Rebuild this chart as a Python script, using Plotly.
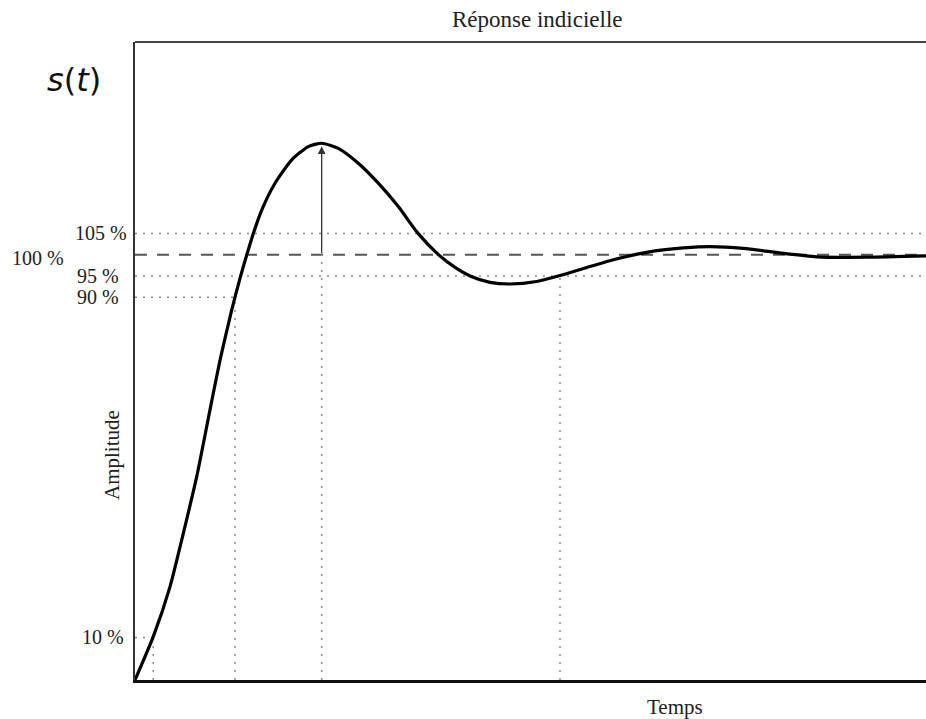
import plotly.graph_objects as go

# ---- data ----
temps = [0.0, 0.231, 0.442, 0.611, 0.780, 0.948, 1.075, 1.223, 1.328, 1.412, 1.496, 1.602,
         1.770, 1.981, 2.191, 2.360, 2.570, 2.823, 3.076, 3.329, 3.578, 3.843, 4.046, 4.235,
         4.488, 4.741, 5.078, 5.373, 5.752, 6.047, 6.321, 6.574, 6.932, 7.269, 7.690, 8.196,
         8.618, 9.250, 10.0]
amplitude = [0.0, 0.102, 0.219, 0.345, 0.478, 0.635, 0.752, 0.870, 0.945, 0.999, 1.050, 1.105,
             1.168, 1.223, 1.254, 1.262, 1.250, 1.215, 1.168, 1.113, 1.050, 0.999, 0.970, 0.950,
             0.935, 0.931, 0.937, 0.951, 0.972, 0.988, 1.000, 1.009, 1.016, 1.019, 1.015, 1.003,
             0.995, 0.994, 0.997]

niveau_final = 1.0
niveaux_pleins = [1.05, 0.95]          # 105 %, 95 % (full-width dotted)
niveau_90 = 0.90
niveau_10 = 0.10
t_10 = 0.231      # time curve reaches 10 %
t_90 = 1.264      # time curve reaches 90 %
t_pic = 2.36      # peak time
val_pic = 1.255   # arrow tip
t_5 = 5.373       # settling (95 %)

labels_y = ["105 %", "100 %", "95 %", "90 %", "10 %"]
labels_val = [1.05, 1.0, 0.95, 0.90, 0.10]
labels_right_px = [129, 66, 121, 121, 126]

W, H = 926, 719
L, T, B, R = 135, 42, 680, 926
XMAX, YMAX = 10.0, 1.5

DOT = "2px,6px"
GREY = "#8a8a8a"

fig = go.Figure()

def seg(x0, x1, y0, y1, color, dash, width):
    fig.add_trace(go.Scatter(x=[x0, x1], y=[y0, y1], mode="lines",
                             line=dict(color=color, dash=dash, width=width),
                             hoverinfo="skip", showlegend=False))

# horizontal reference lines
for lv in niveaux_pleins:
    seg(0, XMAX, lv, lv, GREY, DOT, 1.5)
seg(0, t_90, niveau_90, niveau_90, GREY, DOT, 1.5)
seg(0, t_10, niveau_10, niveau_10, GREY, DOT, 1.5)
seg(0, XMAX, niveau_final, niveau_final, "#555555", "12px,10px", 2)

# vertical reference lines
seg(t_10, t_10, 0, niveau_10, GREY, DOT, 1.5)
seg(t_90, t_90, 0, niveau_90, GREY, DOT, 1.5)
seg(t_pic, t_pic, 0, niveau_final, GREY, DOT, 1.5)
seg(t_5, t_5, 0, 0.95, GREY, DOT, 1.5)

# response curve
fig.add_trace(go.Scatter(x=temps, y=amplitude, mode="lines",
                         line=dict(color="black", width=3.2, shape="spline", smoothing=0.6),
                         hoverinfo="skip", showlegend=False))

# overshoot arrow
fig.add_annotation(x=t_pic, y=val_pic, ax=t_pic, ay=niveau_final, xref="x", yref="y",
                   axref="x", ayref="y", showarrow=True, arrowhead=2, arrowsize=1.2,
                   arrowwidth=1.3, arrowcolor="#333333", text="")

def px_x(px):
    return (px - L) / (R - L)

def px_y(py):
    return (B - py) / (B - T)

FONT = "Liberation Serif, Times New Roman, serif"

for lab, v, rp in zip(labels_y, labels_val, labels_right_px):
    fig.add_annotation(x=px_x(rp), y=v, xref="paper", yref="y", text=lab, showarrow=False,
                       xanchor="right", yanchor="middle", yshift=-3 if lab == "100 %" else 0,
                       font=dict(family=FONT, size=20, color="#222222"))

fig.add_annotation(x=px_x(537), y=px_y(20), xref="paper", yref="paper", text="Réponse indicielle",
                   showarrow=False, xanchor="center", yanchor="middle",
                   font=dict(family=FONT, size=23, color="#222222"))
fig.add_annotation(x=px_x(675), y=px_y(707), xref="paper", yref="paper", text="Temps",
                   showarrow=False, xanchor="center", yanchor="middle",
                   font=dict(family=FONT, size=21, color="#222222"))
fig.add_annotation(x=px_x(112), y=px_y(455), xref="paper", yref="paper", text="Amplitude",
                   showarrow=False, xanchor="center", yanchor="middle", textangle=-90,
                   font=dict(family=FONT, size=21, color="#222222"))
fig.add_annotation(x=px_x(74), y=px_y(80), xref="paper", yref="paper",
                   text="<i>s</i>(<i>t</i>)", showarrow=False, xanchor="center", yanchor="middle",
                   font=dict(family="DejaVu Sans", size=32, color="#111111"))

# frame: top line
fig.add_shape(type="line", xref="paper", yref="paper", x0=0, x1=1, y0=1, y1=1,
              line=dict(color="#444444", width=2))

fig.update_xaxes(range=[0, XMAX], showgrid=False, zeroline=False, showticklabels=False,
                 ticks="", showline=True, linecolor="#111111", linewidth=3)
fig.update_yaxes(range=[0, YMAX], showgrid=False, zeroline=False, showticklabels=False,
                 ticks="", showline=True, linecolor="#333333", linewidth=2)

fig.update_layout(width=W, height=H,
                  margin=dict(l=L, r=W - R, t=T, b=H - B, autoexpand=False),
                  plot_bgcolor="white", paper_bgcolor="white", showlegend=False)

fig.write_html("out.html", config={"displayModeBar": False},
               post_script="document.body.style.margin='0';document.body.style.overflow='hidden';")
